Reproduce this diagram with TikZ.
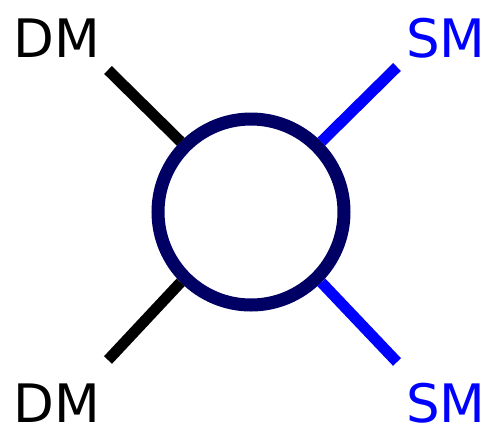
\documentclass[tikz,border=0pt]{standalone}
\usepackage{fontspec}
\newfontfamily\labelfont{DejaVu Sans}
\usetikzlibrary{calc}
\definecolor{blobnavy}{RGB}{0,0,100}
\definecolor{smblue}{RGB}{0,0,255}

\begin{document}
\begin{tikzpicture}[x=1pt, y=-1pt,
    % --- styles ---
    dmleg/.style={line width=11pt, black},
    smleg/.style={line width=11pt, smblue},
    blob/.style={circle, draw=blobnavy, line width=13pt, fill=white, minimum size=186pt, inner sep=0pt},
    particle/.style={font=\labelfont\fontsize{53}{60}\selectfont, inner sep=0pt}
]
    \useasboundingbox (0,0) rectangle (490,429);

    % --- blob in the middle ---
    \node[blob] (b) at (251,212) {};

    % --- free ends of the legs ---
    \coordinate (dm_in)   at (108,70);
    \coordinate (dm_out)  at (108,360);
    \coordinate (sm_in)   at (397,67);
    \coordinate (sm_out)  at (397,362);

    % --- legs ---
    \draw[dmleg] (dm_in)  -- (b.135);
    \draw[dmleg] (dm_out) -- (b.225);
    \draw[smleg] (b.45)   -- (sm_in);
    \draw[smleg] (b.315)  -- (sm_out);

    % --- labels ---
    \node[particle] (dm_top) at (57,38)  {DM};
    \node[particle] (dm_bot) at (57,403) {DM};
    \node[particle, text=smblue] (sm_top) at (446,38)  {SM};
    \node[particle, text=smblue] (sm_bot) at (446,403) {SM};

\end{tikzpicture}
\end{document}
